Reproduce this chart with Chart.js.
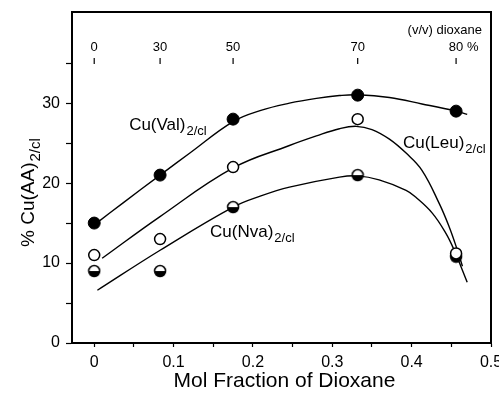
<!DOCTYPE html>
<html>
<head>
<meta charset="utf-8">
<script src="https://cdn.jsdelivr.net/npm/chart.js@4.4.1/dist/chart.umd.min.js"></script>
<style>
  html, body { margin: 0; padding: 0; background: #fff; }
  canvas { display: block; }
</style>
</head>
<body>
<canvas id="chart" width="499" height="395"></canvas>
<script>
// measured points (mol fraction of dioxane -> % complex)
const molFraction = [0, 0.083, 0.175, 0.332, 0.456];
const valPoints = [15, 21, 28, 31, 29];
const leuPoints = [11, 13, 22, 28, 11.2];
const nvaPoints = [9, 9, 17, 21, 10.8];

// hand drawn curves
const valCurveX = [0.003, 0.036, 0.083, 0.121, 0.175, 0.210, 0.246, 0.280, 0.309, 0.332, 0.372, 0.413, 0.456, 0.470];
const valCurveY = [15.0, 17.5, 21.0, 23.8, 27.7, 29.1, 30.0, 30.6, 30.95, 31.05, 30.7, 29.9, 29.0, 28.6];
const leuCurveX = [0.010, 0.082, 0.175, 0.246, 0.280, 0.309, 0.330, 0.350, 0.372, 0.393, 0.413, 0.435, 0.447, 0.457, 0.464];
const leuCurveY = [10.6, 15.75, 21.9, 24.7, 25.9, 26.8, 27.1, 26.7, 25.5, 23.75, 21.6, 17.4, 14.6, 11.8, 9.6];
const nvaCurveX = [0.004, 0.083, 0.175, 0.210, 0.246, 0.309, 0.332, 0.359, 0.393, 0.405, 0.426, 0.443, 0.453, 0.470];
const nvaCurveY = [6.6, 11.6, 17.0, 18.4, 19.5, 20.75, 20.9, 20.4, 19.1, 18.25, 16.25, 13.75, 11.75, 7.6];

// axes
const xTickValues = [0, 0.05, 0.1, 0.15, 0.2, 0.25, 0.3, 0.35, 0.4, 0.45, 0.5];
const yTickValues = [0, 5, 10, 15, 20, 25, 30, 35];
const dioxaneLabels = ['0', '30', '50', '70', '80'];

const FONT = '"Liberation Sans", Arial, sans-serif';

function pairs(xs, ys) {
    return xs.map((x, i) => ({ x: x, y: ys[i] }));
}

// half filled marker (white top, black bottom)
function halfMarker() {
    const c = document.createElement('canvas');
    c.width = 14; c.height = 14;
    const g = c.getContext('2d');
    g.beginPath(); g.arc(7, 7, 5.5, 0, Math.PI * 2);
    g.fillStyle = '#fff'; g.fill();
    g.beginPath(); g.arc(7, 7, 5.5, 0, Math.PI);
    g.fillStyle = '#000'; g.fill();
    g.beginPath(); g.arc(7, 7, 5.5, 0, Math.PI * 2);
    g.lineWidth = 1.5; g.strokeStyle = '#000'; g.stroke();
    return c;
}

function curve(xs, ys) {
    return {
        data: pairs(xs, ys), showLine: true, borderColor: '#000', borderWidth: 1.4,
        pointRadius: 0, tension: 0.4, order: 2
    };
}

// subscripted label: main text followed by a lowered smaller part
function subLabel(ctx, main, sub, x, y, size) {
    ctx.font = size + 'px ' + FONT;
    ctx.fillText(main, x, y);
    const w = ctx.measureText(main).width;
    ctx.font = Math.round(size * 0.78) + 'px ' + FONT;
    ctx.fillText(sub, x + w + 1, y + size * 0.3);
}

const decorations = {
    id: 'decorations',
    afterDraw(chart) {
        const ctx = chart.ctx, a = chart.chartArea;
        const xs = chart.scales.x, ys = chart.scales.y;
        ctx.save();
        // frame
        ctx.strokeStyle = '#000'; ctx.lineWidth = 2;
        ctx.strokeRect(a.left, a.top, a.right - a.left, a.bottom - a.top);

        ctx.fillStyle = '#000';
        ctx.textBaseline = 'alphabetic';
        // top dioxane scale, inside the frame
        ctx.font = '13px ' + FONT;
        ctx.textAlign = 'right';
        ctx.fillText('(v/v) dioxane', a.right - 9, 34);
        ctx.textAlign = 'center';
        ctx.lineWidth = 1.2;
        molFraction.forEach((m, i) => {
            const px = xs.getPixelForValue(m);
            ctx.font = '13px ' + FONT;
            ctx.fillText(dioxaneLabels[i], px, 51);
            if (i === molFraction.length - 1) {
                const w = ctx.measureText(dioxaneLabels[i]).width;
                ctx.textAlign = 'left';
                ctx.fillText(' %', px + w / 2, 51);
                ctx.textAlign = 'center';
            }
            ctx.beginPath(); ctx.moveTo(px, 58); ctx.lineTo(px, 64); ctx.stroke();
        });

        // curve labels
        ctx.textAlign = 'left';
        subLabel(ctx, 'Cu(Val)', '2/cl', xs.getPixelForValue(0.044), ys.getPixelForValue(26.6), 17);
        subLabel(ctx, 'Cu(Nva)', '2/cl', xs.getPixelForValue(0.146), ys.getPixelForValue(13.25), 17);
        subLabel(ctx, 'Cu(Leu)', '2/cl', xs.getPixelForValue(0.389), ys.getPixelForValue(24.4), 17);

        // axis titles
        ctx.textAlign = 'center';
        ctx.font = '21px ' + FONT;
        ctx.fillText('Mol Fraction of Dioxane', (a.left + a.right) / 2 + 3, 387);

        ctx.translate(34, 247);
        ctx.rotate(-Math.PI / 2);
        ctx.textAlign = 'left';
        subLabel(ctx, '% Cu(AA)', '2/cl', 0, 0, 19);
        ctx.restore();
    }
};

new Chart(document.getElementById('chart'), {
    type: 'scatter',
    data: {
        datasets: [
            { data: pairs(molFraction, valPoints), pointStyle: 'circle', pointRadius: 6,
              backgroundColor: '#000', borderColor: '#000', borderWidth: 1, order: 0 },
            { data: pairs(molFraction, leuPoints), pointStyle: 'circle', pointRadius: 5.5,
              backgroundColor: '#fff', borderColor: '#000', borderWidth: 1.5, order: 0 },
            { data: pairs(molFraction, nvaPoints), pointStyle: halfMarker(), order: 0 },
            curve(valCurveX, valCurveY),
            curve(leuCurveX, leuCurveY),
            curve(nvaCurveX, nvaCurveY)
        ]
    },
    options: {
        responsive: false,
        animation: false,
        layout: { padding: { left: 0, right: 8, top: 12, bottom: 0 } },
        plugins: { legend: { display: false }, tooltip: { enabled: false } },
        scales: {
            x: {
                type: 'linear', min: -0.028, max: 0.5,
                afterBuildTicks: s => { s.ticks = xTickValues.map(v => ({ value: v })); },
                afterFit: s => { s.height = 52; s.paddingLeft = 0; s.paddingRight = 0; },
                grid: { drawOnChartArea: false, tickLength: 4, tickColor: '#000', tickWidth: 1.2 },
                border: { display: true, color: '#000', width: 2 },
                ticks: {
                    color: '#000', padding: 6, maxRotation: 0, autoSkip: false,
                    font: { family: FONT, size: 16 },
                    callback: v => (Math.abs(v * 10 - Math.round(v * 10)) < 1e-6) ? (v === 0 ? '0' : v.toFixed(1)) : ''
                }
            },
            y: {
                type: 'linear', min: 0, max: 41.4,
                afterBuildTicks: s => { s.ticks = yTickValues.map(v => ({ value: v })); },
                afterFit: s => { s.width = 72; s.paddingTop = 0; s.paddingBottom = 0; },
                grid: { drawOnChartArea: false, tickLength: 6, tickColor: '#000', tickWidth: 1.2 },
                border: { display: true, color: '#000', width: 2 },
                ticks: {
                    color: '#000', padding: 6, autoSkip: false,
                    font: { family: FONT, size: 16 },
                    callback: v => (v % 10 === 0) ? String(v) : ''
                }
            }
        }
    },
    plugins: [decorations]
});
</script>
</body>
</html>
